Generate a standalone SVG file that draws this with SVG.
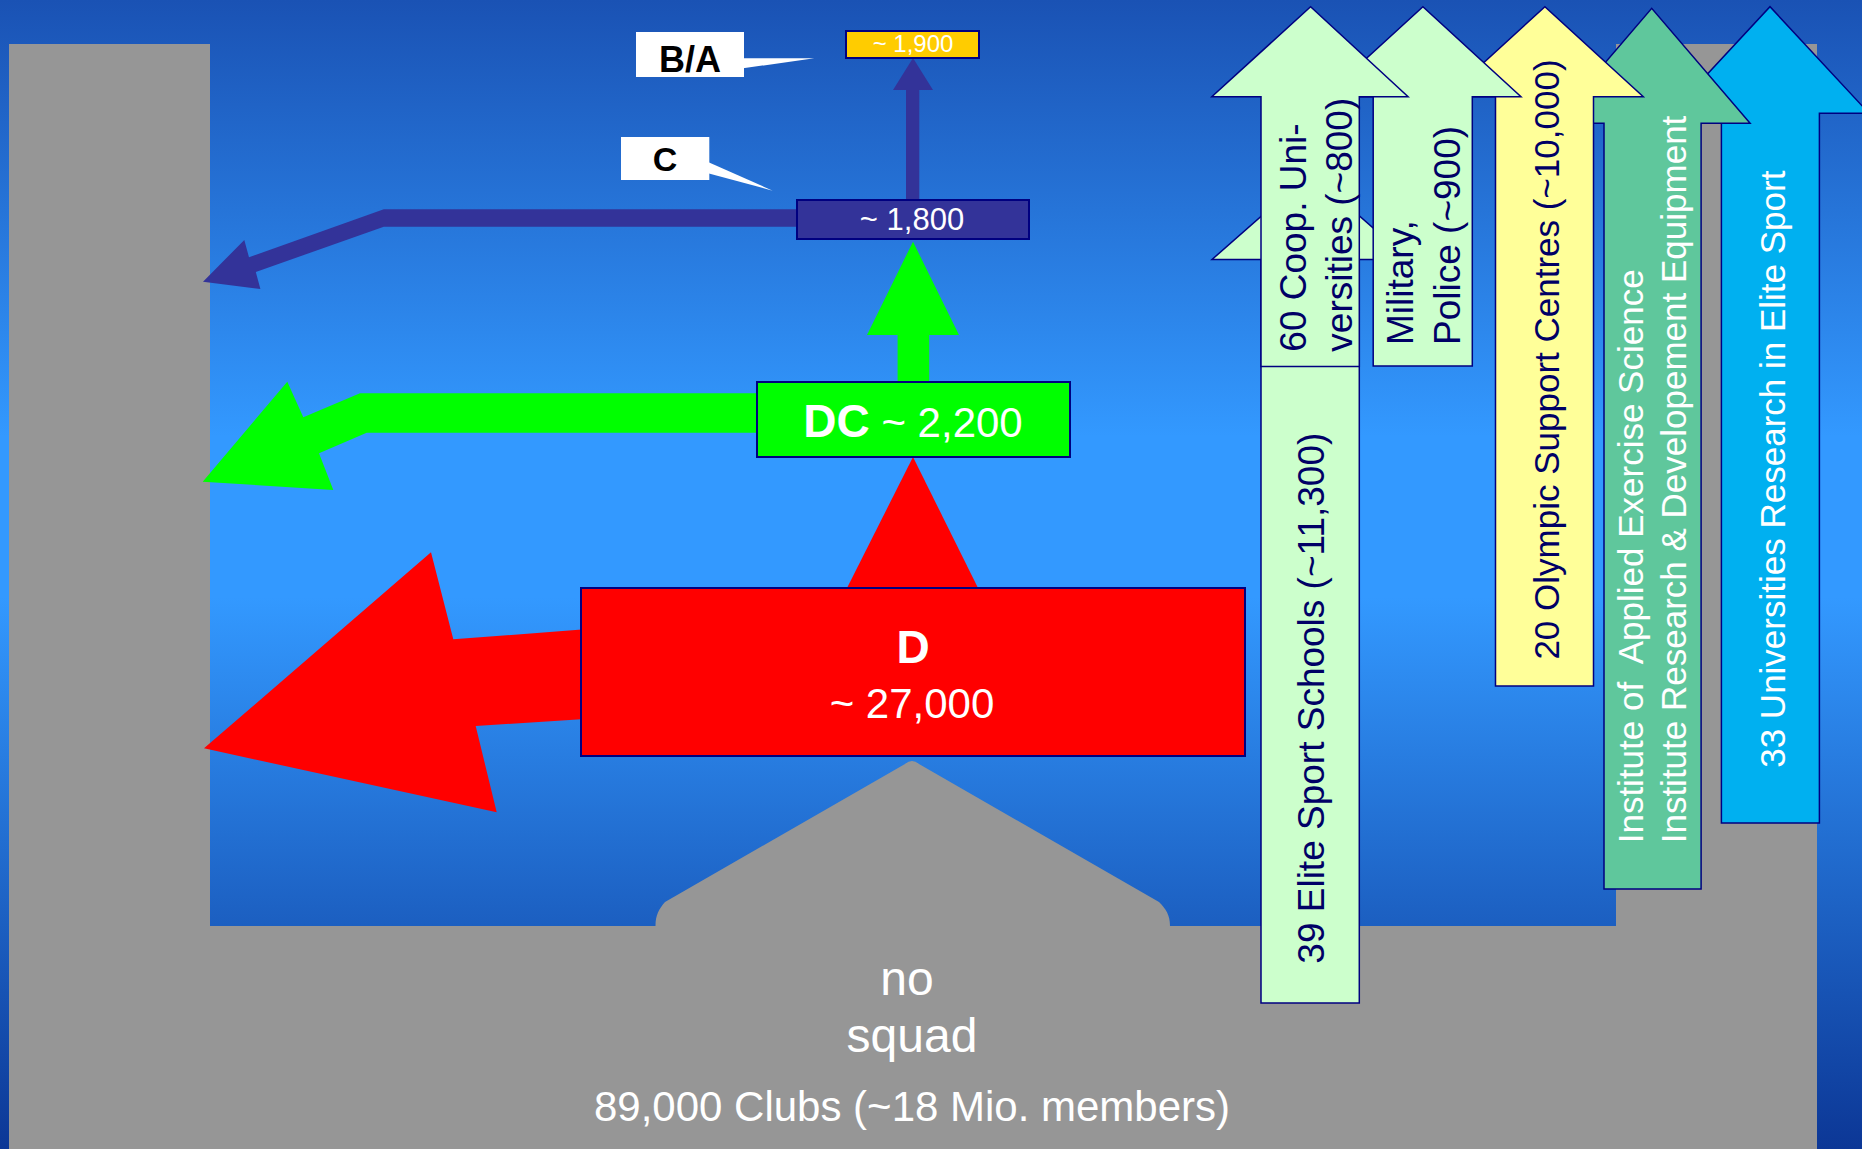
<svg xmlns="http://www.w3.org/2000/svg" width="1862" height="1149" viewBox="0 0 1862 1149">
<defs>
<linearGradient id="bg" x1="0" y1="0" x2="0" y2="1">
<stop offset="0" stop-color="#1a52b4"/>
<stop offset="0.38" stop-color="#3399ff"/>
<stop offset="0.52" stop-color="#3399ff"/>
<stop offset="1" stop-color="#0c3796"/>
</linearGradient>
<style>
text{font-family:"Liberation Sans",Arial,sans-serif}
.box{stroke:#000080;stroke-width:2}
.up{stroke:#000080;stroke-width:1.5}
.vt{font-size:37px;fill:#000066}
.vw{font-size:35px;fill:#ffffff}
.wt{fill:#ffffff;text-anchor:middle}
.bt{fill:#000000;font-weight:bold;text-anchor:middle}
</style>
</defs>
<rect x="0" y="0" width="1862" height="1149" fill="url(#bg)"/>
<g id="ground">
<path d="M9,44 H210 V926 H655.5 C655.5,915 659,909 665,902 L905,764 Q912,758 919,764 L1159,902 C1166,909 1170,915 1170,926 H1616 V44 H1817 V1149 H9 Z" fill="#969696"/>
</g>
<g id="connectors">
<polygon points="800,209.3 383.8,209.3 249,257.3 244.3,240 203,281.7 260.4,289 255.8,272 383.8,226.7 800,226.7" fill="#333399"/>
<polygon points="906,202 906,90 893,90 913,58 933,90 919.3,90 919.3,202" fill="#333399"/>
<polygon points="897.6,385 897.6,335 867,335 913,241.7 959,335 929.2,335 929.2,385" fill="#00ff00"/>
<polygon points="760,393.3 360,393.3 303.3,417.3 287.3,381.7 202.7,481.7 333.3,490 319,453.3 366.7,432.7 760,432.7" fill="#00ff00"/>
<polygon points="913,457 845,592 980,592" fill="#ff0000"/>
<polygon points="585,629.3 453.3,639.3 431,552.3 204,748.3 496.7,812.3 475.7,726 585,719" fill="#ff0000"/>
</g>
<g id="node-ba">
<rect x="846" y="31" width="133" height="27" fill="#ffcc00" class="box" stroke-width="1.5"/>
<text x="913" y="51.5" class="wt" font-size="24">~ 1,900</text>
</g>
<g id="label-ba">
<rect x="636" y="32" width="108" height="45" fill="#ffffff"/>
<polygon points="743,58.3 814.3,58.3 743,68.3" fill="#ffffff"/>
<text x="690" y="72" class="bt" font-size="36">B/A</text>
</g>
<g id="label-c">
<rect x="621" y="137" width="88.3" height="43" fill="#ffffff"/>
<polygon points="708,162 772.7,190.7 708,173.3" fill="#ffffff"/>
<text x="665" y="171" class="bt" font-size="34">C</text>
</g>
<g id="node-c">
<rect x="797" y="200" width="232" height="39" fill="#333399" class="box"/>
<text x="912" y="230" class="wt" font-size="31">~ 1,800</text>
</g>
<g id="node-dc">
<rect x="757" y="382" width="313" height="75" fill="#00ff00" class="box"/>
<text x="913" y="437" class="wt"><tspan font-weight="bold" font-size="46">DC</tspan><tspan font-size="42"> ~ 2,200</tspan></text>
</g>
<g id="node-d">
<rect x="581" y="588" width="664" height="168" fill="#ff0000" class="box"/>
<text x="913" y="663" class="wt" font-weight="bold" font-size="46">D</text>
<text x="912" y="718" class="wt" font-size="42">~ 27,000</text>
</g>
<g id="node-elite-schools">
<polygon class="up" fill="#ccffcc" points="1261,1003 1261,259.5 1212,259.5 1310.5,173 1409,259.5 1359.3,259.5 1359.3,1003"/>
<text class="vt" transform="translate(1324,963.7) rotate(-90)">39 Elite Sport Schools (~11,300)</text>
</g>
<g id="node-universities">
<polygon class="up" fill="#00b0f0" points="1721.4,823 1721.4,113.3 1671,113.3 1770,6.7 1869,113.3 1819.4,113.3 1819.4,823"/>
<text class="vw" transform="translate(1784.5,767.8) rotate(-90)">33 Universities Research in Elite Sport</text>
</g>
<g id="node-institutes">
<polygon class="up" fill="#5fc79c" points="1604,889 1604,123.3 1553.3,123.3 1651.7,8.3 1750.1,123.3 1701.1,123.3 1701.1,889"/>
<text class="vw" transform="translate(1643,843.3) rotate(-90)">Institute of&#160; Applied Exercise Science</text>
<text class="vw" transform="translate(1685.5,843.3) rotate(-90)">Institute Research &amp; Developement Equipment</text>
</g>
<g id="node-olympic">
<polygon class="up" fill="#ffff99" points="1495.5,686 1495.5,96.7 1446.5,96.7 1544.9,6.7 1643.3,96.7 1593.5,96.7 1593.5,686"/>
<text class="vt" style="font-size:35px" transform="translate(1559,659.6) rotate(-90)">20 Olympic Support Centres (~10,000)</text>
</g>
<g id="node-military">
<polygon class="up" fill="#ccffcc" points="1373.2,366 1373.2,96.7 1324.5,96.7 1422.9,6.7 1521,96.7 1472.3,96.7 1472.3,366"/>
<text class="vt" transform="translate(1413.3,345) rotate(-90)">Military,</text>
<text class="vt" transform="translate(1459.6,345) rotate(-90)">Police (~900)</text>
</g>
<g id="node-coop-universities">
<polygon class="up" fill="#ccffcc" points="1261,366.5 1261,96.7 1211.8,96.7 1310.6,6.7 1408.1,96.7 1359.3,96.7 1359.3,366.5"/>
<text class="vt" transform="translate(1306,351.7) rotate(-90)">60 Coop. Uni-</text>
<text class="vt" transform="translate(1351.5,351.7) rotate(-90)">versities (~800)</text>
</g>
<g id="node-clubs">
<text x="907" y="995" class="wt" font-size="48">no</text>
<text x="912" y="1052" class="wt" font-size="48">squad</text>
<text x="912" y="1121" class="wt" font-size="42">89,000 Clubs (~18 Mio. members)</text>
</g>
</svg>
